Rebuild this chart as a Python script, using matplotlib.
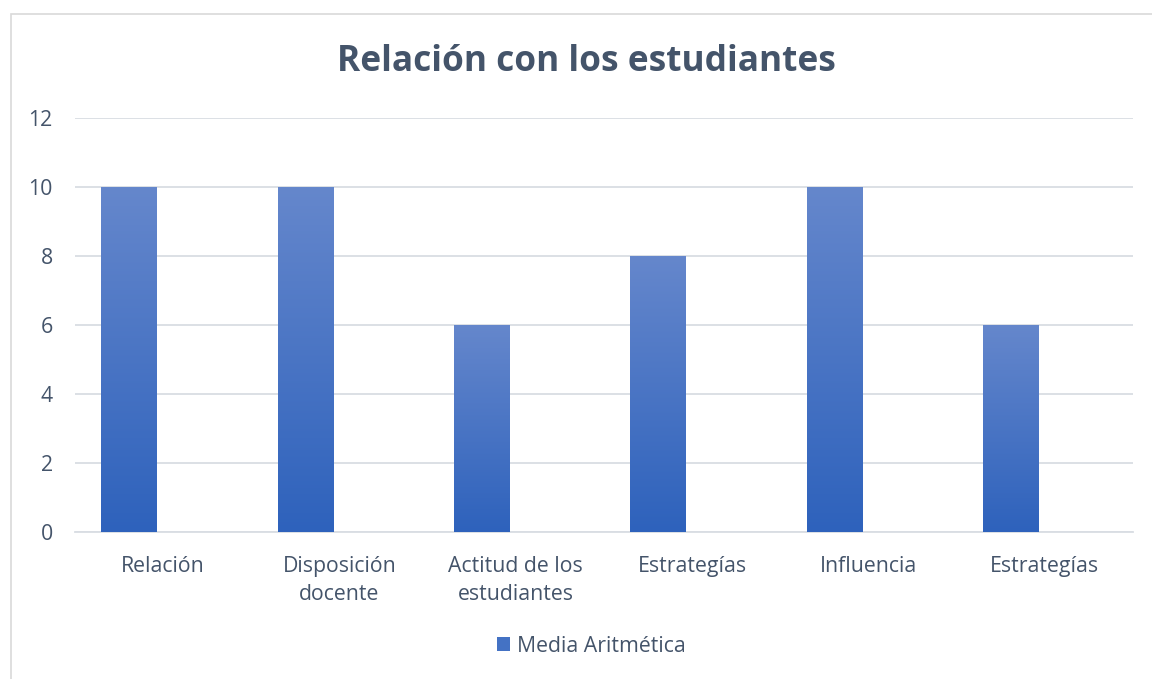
import matplotlib
matplotlib.use("Agg")
import matplotlib.pyplot as plt
import numpy as np
from matplotlib.patches import Rectangle, Patch
from matplotlib.colors import LinearSegmentedColormap

categories = ["Relación", "Disposición\ndocente", "Actitud de los\nestudiantes",
              "Estrategías", "Influencia", "Estrategías"]
values = [10, 10, 6, 8, 10, 6]
series_name = "Media Aritmética"
title = "Relación con los estudiantes"
yticks = [0, 2, 4, 6, 8, 10, 12]

TEXT = "#44546a"
GRID = "#d9dde3"
TOP = "#6587cc"
BOT = "#2e62bc"
FS = 15.3

plt.rcParams['font.family'] = ['Open Sans', 'DejaVu Sans']

fig = plt.figure(figsize=(11.52, 6.79), dpi=100)
W, H = 1152, 679
# chart frame
fig.patches.append(Rectangle((11 / W, -0.01), 1.02, (679 - 14) / H + 0.01,
                             transform=fig.transFigure, fill=False,
                             edgecolor="#d9d9d9", linewidth=1.2))

ax = fig.add_axes([75 / W, 1 - 532 / H, (1133 - 75) / W, (532 - 118) / H])
x = np.arange(len(categories))
bw = 0.315
off = -0.194
bars = ax.bar(x + off, values, width=bw, color=BOT, zorder=2, label=series_name)
cmap = LinearSegmentedColormap.from_list("g", [BOT, TOP])
grad = np.linspace(0, 1, 256).reshape(-1, 1)
for b in bars:
    x0, y0 = b.get_x(), b.get_y()
    im = ax.imshow(grad, cmap=cmap, origin="lower", aspect="auto",
                   extent=[x0, x0 + b.get_width(), y0, y0 + b.get_height()],
                   zorder=3, interpolation="bilinear")
    im.set_clip_path(b)

ax.set_xlim(-0.5, len(categories) - 0.5)
ax.set_ylim(0, 12)
ax.set_yticks(yticks)
ax.set_xticks(x)
ax.set_xticklabels(categories, fontsize=FS, color=TEXT, linespacing=1.45)
ax.tick_params(axis="y", labelsize=FS, labelcolor=TEXT, length=0, pad=16)
ax.tick_params(axis="x", length=0, pad=17)
ax.grid(axis="y", color=GRID, linewidth=1.3, zorder=0)
ax.set_axisbelow(True)
for s in ["top", "right", "left"]:
    ax.spines[s].set_visible(False)
ax.spines["bottom"].set_color(GRID)
ax.spines["bottom"].set_linewidth(1.3)

fig.text(586 / W, 1 - 62 / H, title, ha="center", va="center",
         fontsize=25.4, fontweight="bold", color=TEXT)

leg = fig.legend(handles=[Patch(facecolor="#4472c4", edgecolor="none")],
                 labels=[series_name], loc="center", bbox_to_anchor=(591 / W, 1 - 646 / H),
                 frameon=False, fontsize=FS, handlelength=0.65, handleheight=0.65,
                 handletextpad=0.3, labelcolor=TEXT)

fig.savefig("out.png", dpi=100)
